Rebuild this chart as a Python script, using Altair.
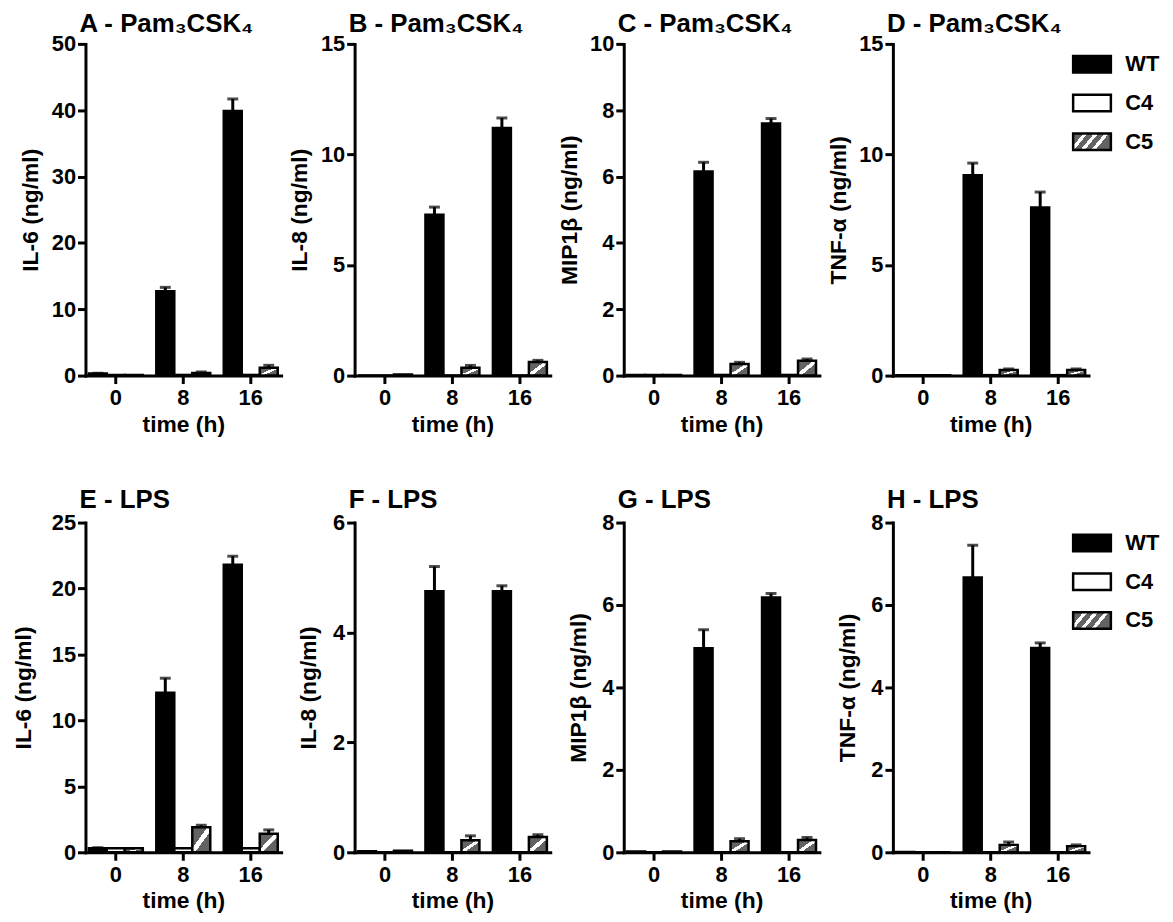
import altair as alt
import pandas as pd

FONT = "Liberation Sans"

time_points = [0, 8, 16]
genotypes = ["WT", "C4", "C5"]

# ---- Panel A: IL-6, Pam3CSK4
A_wt = [0.3, 12.7, 39.9]
A_wt_err = [0.05, 0.6, 1.8]
A_c4 = [0.1, 0.1, 0.1]
A_c4_err = [0.0, 0.0, 0.0]
A_c5 = [0.1, 0.4, 1.2]
A_c5_err = [0.0, 0.15, 0.35]
# ---- Panel B: IL-8, Pam3CSK4
B_wt = [0.0, 7.27, 11.2]
B_wt_err = [0.0, 0.35, 0.45]
B_c4 = [0.0, 0.0, 0.0]
B_c4_err = [0.0, 0.0, 0.0]
B_c5 = [0.05, 0.36, 0.62]
B_c5_err = [0.0, 0.1, 0.07]
# ---- Panel C: MIP1b, Pam3CSK4
C_wt = [0.02, 6.15, 7.6]
C_wt_err = [0.0, 0.28, 0.15]
C_c4 = [0.02, 0.02, 0.02]
C_c4_err = [0.0, 0.0, 0.0]
C_c5 = [0.02, 0.35, 0.45]
C_c5_err = [0.0, 0.05, 0.05]
# ---- Panel D: TNF-a, Pam3CSK4
D_wt = [0.02, 9.06, 7.6]
D_wt_err = [0.0, 0.55, 0.7]
D_c4 = [0.02, 0.02, 0.02]
D_c4_err = [0.0, 0.0, 0.0]
D_c5 = [0.02, 0.25, 0.25]
D_c5_err = [0.0, 0.05, 0.05]
# ---- Panel E: IL-6, LPS
E_wt = [0.3, 12.1, 21.8]
E_wt_err = [0.05, 1.1, 0.65]
E_c4 = [0.3, 0.3, 0.3]
E_c4_err = [0.0, 0.0, 0.0]
E_c5 = [0.3, 1.9, 1.4]
E_c5_err = [0.0, 0.15, 0.3]
# ---- Panel F: IL-8, LPS
F_wt = [0.02, 4.75, 4.75]
F_wt_err = [0.0, 0.45, 0.1]
F_c4 = [0.0, 0.0, 0.0]
F_c4_err = [0.0, 0.0, 0.0]
F_c5 = [0.03, 0.22, 0.28]
F_c5_err = [0.0, 0.08, 0.04]
# ---- Panel G: MIP1b, LPS
G_wt = [0.02, 4.95, 6.18]
G_wt_err = [0.0, 0.45, 0.1]
G_c4 = [0.0, 0.0, 0.0]
G_c4_err = [0.0, 0.0, 0.0]
G_c5 = [0.02, 0.27, 0.3]
G_c5_err = [0.0, 0.06, 0.06]
# ---- Panel H: TNF-a, LPS
H_wt = [0.01, 6.67, 4.96]
H_wt_err = [0.0, 0.78, 0.12]
H_c4 = [0.0, 0.0, 0.0]
H_c4_err = [0.0, 0.0, 0.0]
H_c5 = [0.0, 0.18, 0.15]
H_c5_err = [0.0, 0.07, 0.03]

panel_titles = ["A - Pam\u2083CSK\u2084", "B - Pam\u2083CSK\u2084", "C - Pam\u2083CSK\u2084", "D - Pam\u2083CSK\u2084",
                "E - LPS", "F - LPS", "G - LPS", "H - LPS"]
y_titles = ["IL-6 (ng/ml)", "IL-8 (ng/ml)", "MIP1\u03b2 (ng/ml)", "TNF-\u03b1 (ng/ml)"]
y_max = [50, 15, 10, 15, 25, 6, 8, 8]
y_step = [10, 5, 2, 5, 5, 2, 2, 2]

series = [
    (A_wt, A_wt_err, A_c4, A_c4_err, A_c5, A_c5_err),
    (B_wt, B_wt_err, B_c4, B_c4_err, B_c5, B_c5_err),
    (C_wt, C_wt_err, C_c4, C_c4_err, C_c5, C_c5_err),
    (D_wt, D_wt_err, D_c4, D_c4_err, D_c5, D_c5_err),
    (E_wt, E_wt_err, E_c4, E_c4_err, E_c5, E_c5_err),
    (F_wt, F_wt_err, F_c4, F_c4_err, F_c5, F_c5_err),
    (G_wt, G_wt_err, G_c4, G_c4_err, G_c5, G_c5_err),
    (H_wt, H_wt_err, H_c4, H_c4_err, H_c5, H_c5_err),
]

GRAY = "#636363"
bar_hatch = alt.LinearGradient(
    gradient="linear", x1=0, y1=0, x2=1, y2=1,
    stops=[alt.GradientStop(offset=0, color=GRAY), alt.GradientStop(offset=0.42, color=GRAY),
           alt.GradientStop(offset=0.42, color="white"), alt.GradientStop(offset=0.58, color="white"),
           alt.GradientStop(offset=0.58, color=GRAY), alt.GradientStop(offset=1, color=GRAY)])

legend_hatch_expr = ("{gradient: 'linear', x1: 0, y1: 0, x2: 1, y2: 0.36, stops: ["
                     "{offset: 0, color: '" + GRAY + "'}, {offset: 0.24, color: '" + GRAY + "'},"
                     "{offset: 0.24, color: 'white'}, {offset: 0.34, color: 'white'},"
                     "{offset: 0.34, color: '" + GRAY + "'}, {offset: 0.49, color: '" + GRAY + "'},"
                     "{offset: 0.49, color: 'white'}, {offset: 0.59, color: 'white'},"
                     "{offset: 0.59, color: '" + GRAY + "'}, {offset: 0.74, color: '" + GRAY + "'},"
                     "{offset: 0.74, color: 'white'}, {offset: 0.84, color: 'white'},"
                     "{offset: 0.84, color: '" + GRAY + "'}, {offset: 1, color: '" + GRAY + "'}]}")

fills = {"WT": "black", "C4": "white", "C5": bar_hatch}

W = 197


def panel_df(s):
    wt, wte, c4, c4e, c5, c5e = s
    rows = []
    for g, vals, errs in (("WT", wt, wte), ("C4", c4, c4e), ("C5", c5, c5e)):
        for t, v, e in zip(time_points, vals, errs):
            rows.append({"time": t, "genotype": g, "value": v, "err": e, "upper": v + e})
    return pd.DataFrame(rows)


def make_panel(i, height, title_x, title_y, legend):
    df = panel_df(series[i])
    xenc = alt.X("time:O", sort=time_points,
                 scale=alt.Scale(paddingInner=0.2, paddingOuter=0.05),
                 axis=alt.Axis(title="time (h)", labelAngle=0, labelPadding=4, titlePadding=5))
    yenc = alt.Y("value:Q", scale=alt.Scale(domain=[0, y_max[i]], nice=False, zero=True),
                 axis=alt.Axis(title=y_titles[i % 4], values=list(range(0, y_max[i] + 1, y_step[i])),
                               format="d",
                               titleX=title_x, titleY=height / 2, titleAngle=270,
                               titleAlign="center", titleBaseline="middle", labelPadding=2))
    xoff = alt.XOffset("genotype:N", sort=genotypes,
                       scale=alt.Scale(domain=genotypes, paddingInner=0, paddingOuter=0))
    base = alt.Chart(df).encode(x=xenc, xOffset=xoff)
    layers = []
    for g in genotypes:
        layers.append(base.transform_filter(alt.datum.genotype == g)
                      .mark_bar(fill=fills[g], stroke="black", strokeWidth=2.5, strokeJoin="miter")
                      .encode(y=yenc))
    eb = base.transform_filter("datum.err > 0")
    layers.append(eb.mark_rule(color="black", strokeWidth=3).encode(y="value:Q", y2="upper:Q"))
    layers.append(eb.mark_tick(color="black", thickness=3, size=11).encode(y="upper:Q"))
    # panel heading
    layers.append(
        alt.Chart(pd.DataFrame({"label": [panel_titles[i]]}))
        .mark_text(align="left", baseline="alphabetic", font=FONT, fontSize=26, fontWeight="bold", color="black")
        .encode(x=alt.value(-6), y=alt.value(title_y), text="label:N"))
    if legend:
        layers.append(
            base.transform_filter("datum.value < -1")
            .mark_bar(stroke="black", strokeWidth=2.5)
            .encode(y="value:Q",
                    fill=alt.Fill("genotype:N",
                                  scale=alt.Scale(domain=genotypes,
                                                  range=["black", "white", {"expr": legend_hatch_expr}]),
                                  legend=alt.Legend(orient="none", legendX=187, legendY=7, title=None,
                                                    symbolType="M-1.6,-0.7H1.6V0.7H-1.6Z", symbolSize=564,
                                                    symbolStrokeColor="black", symbolStrokeWidth=2.5,
                                                    labelFont=FONT, labelFontSize=22, labelFontWeight="bold",
                                                    labelColor="black", labelOffset=20, rowPadding=12))))
    return alt.layer(*layers).properties(width=W, height=height)


row1 = alt.hconcat(
    make_panel(0, 334, -55, -12, False), make_panel(1, 334, -55, -12, False),
    make_panel(2, 334, -55, -12, False), make_panel(3, 334, -55, -12, True),
    spacing=8).resolve_scale(fill="independent")
row2 = alt.hconcat(
    make_panel(4, 332, -62, -15, False), make_panel(5, 332, -46, -15, False),
    make_panel(6, 332, -46, -15, False), make_panel(7, 332, -46, -15, True),
    spacing=17).resolve_scale(fill="independent")

chart = alt.vconcat(row1, row2, spacing=51).resolve_scale(fill="independent").properties(
    padding={"left": 5, "top": 0, "right": 5, "bottom": 0}
).configure_view(stroke=None).configure_axis(
    domainColor="black", domainWidth=3, domainCap="square",
    tickColor="black", tickWidth=3, tickSize=8,
    labelFont=FONT, labelFontSize=22, labelFontWeight="bold", labelColor="black",
    titleFont=FONT, titleFontSize=23, titleFontWeight="bold", titleColor="black",
    grid=False
)

chart.save("out.html", embed_options={"renderer": "svg", "actions": False})
